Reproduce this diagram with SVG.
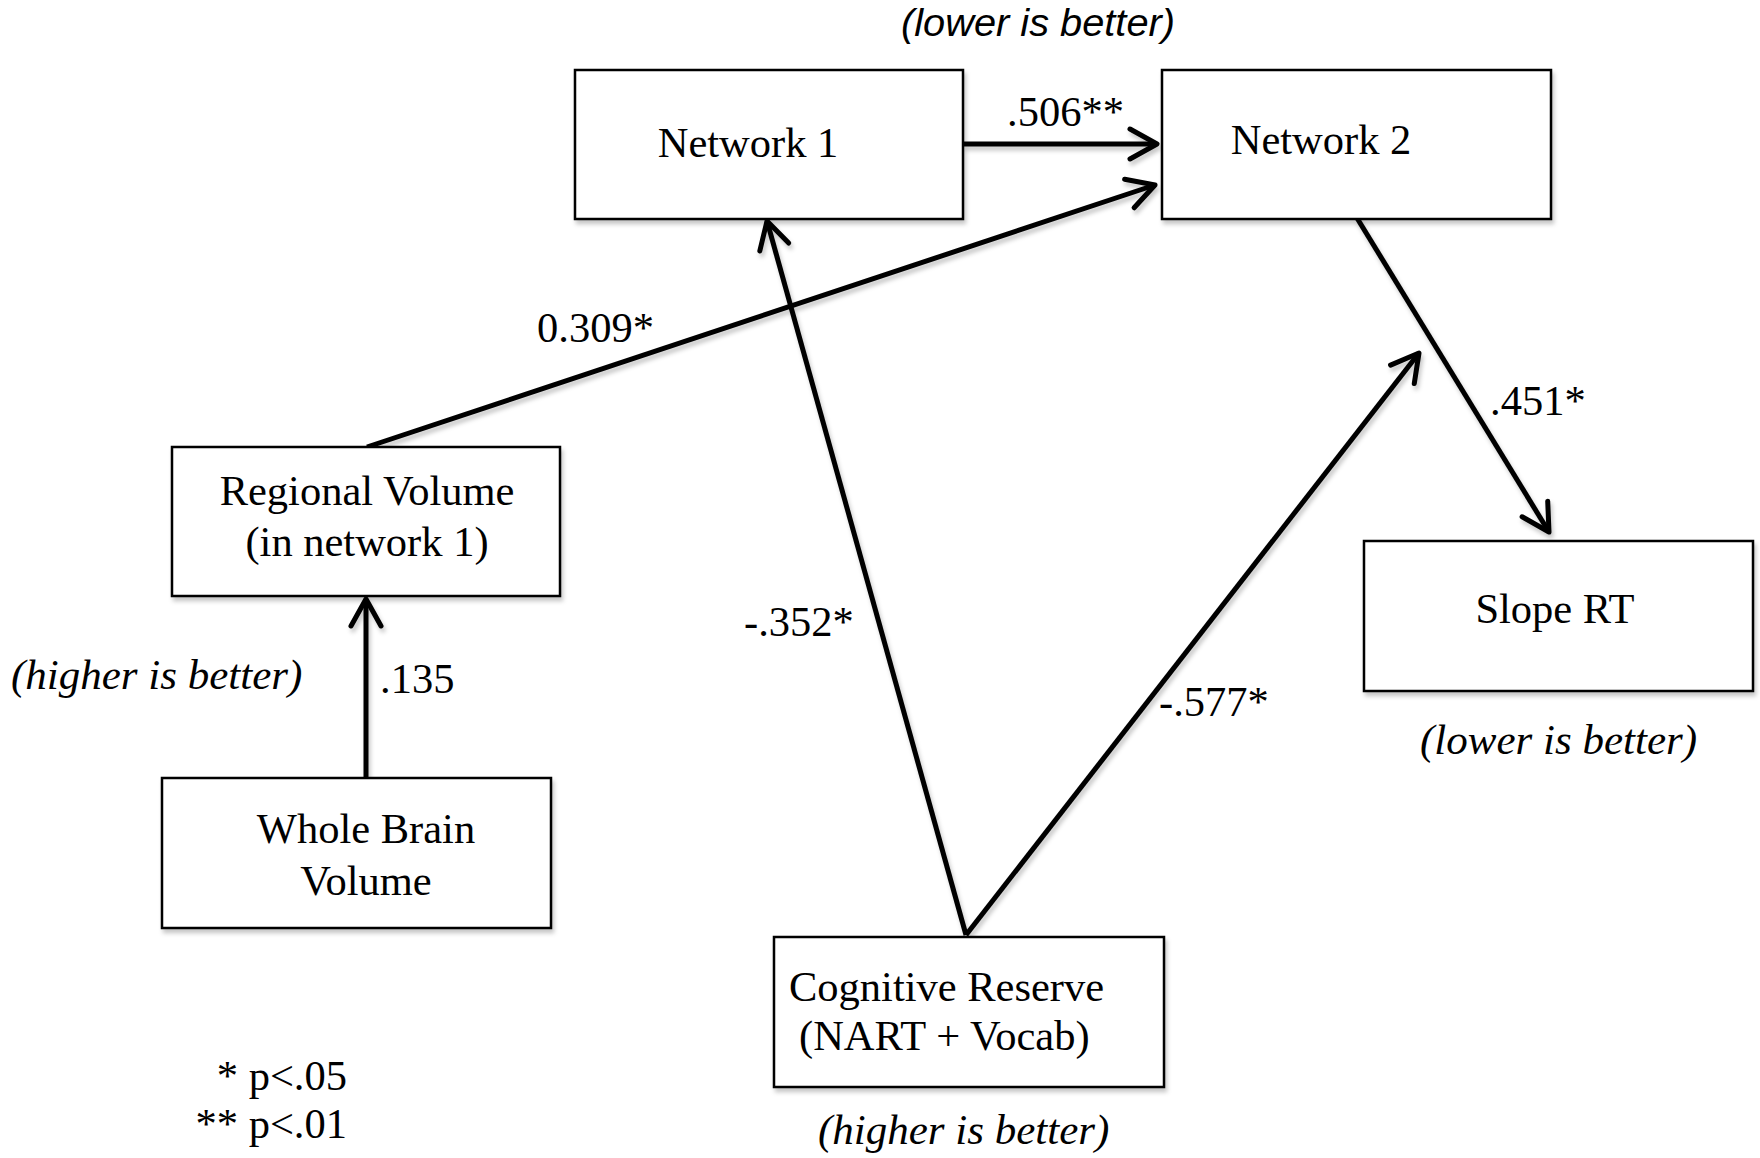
<svg xmlns="http://www.w3.org/2000/svg" width="1760" height="1158" viewBox="0 0 1760 1158">
  <style>
    .box { fill: #ffffff; stroke: #000000; stroke-width: 2.5; }
    .lbl { font-family: "Liberation Serif", "Times New Roman", serif; font-size: 42.5px; fill: #000000; }
    .mid { text-anchor: middle; }
    .note { font-family: "Liberation Serif", "Times New Roman", serif; font-size: 43px; font-style: italic; fill: #000000; }
    .note-sans { font-family: "Liberation Sans", Arial, sans-serif; font-size: 38px; font-style: italic; fill: #000000; }
    .edge { fill: none; stroke: #000000; stroke-width: 5; marker-end: url(#chev); }
    .legend { font-family: "Liberation Serif", "Times New Roman", serif; font-size: 42.5px; fill: #000000; text-anchor: end; }
  </style>
  <defs>
    <filter id="shadow" x="-10%" y="-10%" width="125%" height="130%">
      <feDropShadow dx="2" dy="4" stdDeviation="2" flood-color="#000000" flood-opacity="0.22"/>
    </filter>
    <marker id="chev" markerUnits="userSpaceOnUse" viewBox="-32 -20 38 40" refX="0" refY="0" markerWidth="38" markerHeight="40" orient="auto">
      <path d="M -27,-15 L 0,0 L -27,15" fill="none" stroke="#000000" stroke-width="5" stroke-linecap="round" stroke-linejoin="round"/>
    </marker>
  </defs>

  <rect width="1760" height="1158" fill="#ffffff"/>

  <!-- connectors -->
  <g id="connectors" filter="url(#shadow)">
    <path class="edge" d="M963,144 L1157,144"/>
    <path class="edge" d="M367,447 L1155,185"/>
    <path class="edge" d="M966,935 L767,221"/>
    <path class="edge" d="M966,935 L1419,353"/>
    <path class="edge" d="M1357,218 L1549,532"/>
    <path class="edge" d="M366,792 L366,599"/>
  </g>

  <!-- path coefficients -->
  <g id="edge-labels">
    <text class="lbl" x="1007" y="126">.506**</text>
    <text class="lbl" x="537" y="342">0.309*</text>
    <text class="lbl" x="744" y="636">-.352*</text>
    <text class="lbl" x="1159" y="716">-.577*</text>
    <text class="lbl" x="1490" y="415">.451*</text>
    <text class="lbl" x="380" y="693">.135</text>
  </g>

  <!-- nodes -->
  <g id="network1">
    <rect class="box" x="575" y="70" width="388" height="149" filter="url(#shadow)"/>
    <text class="lbl mid" x="748" y="157">Network 1</text>
  </g>
  <g id="network2">
    <rect class="box" x="1162" y="70" width="389" height="149" filter="url(#shadow)"/>
    <text class="lbl mid" x="1321" y="154">Network 2</text>
  </g>
  <g id="regional-volume">
    <rect class="box" x="172" y="447" width="388" height="149" filter="url(#shadow)"/>
    <text class="lbl mid" x="367" y="505">Regional Volume</text>
    <text class="lbl mid" x="367" y="556">(in network 1)</text>
  </g>
  <g id="whole-brain-volume">
    <rect class="box" x="162" y="778" width="389" height="150" filter="url(#shadow)"/>
    <text class="lbl mid" x="366" y="843">Whole Brain</text>
    <text class="lbl mid" x="366" y="895">Volume</text>
  </g>
  <g id="slope-rt">
    <rect class="box" x="1364" y="541" width="389" height="150" filter="url(#shadow)"/>
    <text class="lbl mid" x="1555" y="623">Slope RT</text>
  </g>
  <g id="cognitive-reserve">
    <rect class="box" x="774" y="937" width="390" height="150" filter="url(#shadow)"/>
    <text class="lbl" x="789" y="1001">Cognitive Reserve</text>
    <text class="lbl" x="799" y="1050">(NART + Vocab)</text>
  </g>

  <!-- direction notes -->
  <g id="notes">
    <text class="note-sans" x="1038" y="36" text-anchor="middle" textLength="274" lengthAdjust="spacingAndGlyphs">(lower is better)</text>
    <text class="note" x="11" y="689">(higher is better)</text>
    <text class="note" x="1420" y="754">(lower is better)</text>
    <text class="note" x="818" y="1144">(higher is better)</text>
  </g>

  <!-- significance legend -->
  <g id="legend">
    <text class="legend" x="347" y="1090">* p&lt;.05</text>
    <text class="legend" x="347" y="1138">** p&lt;.01</text>
  </g>
</svg>
